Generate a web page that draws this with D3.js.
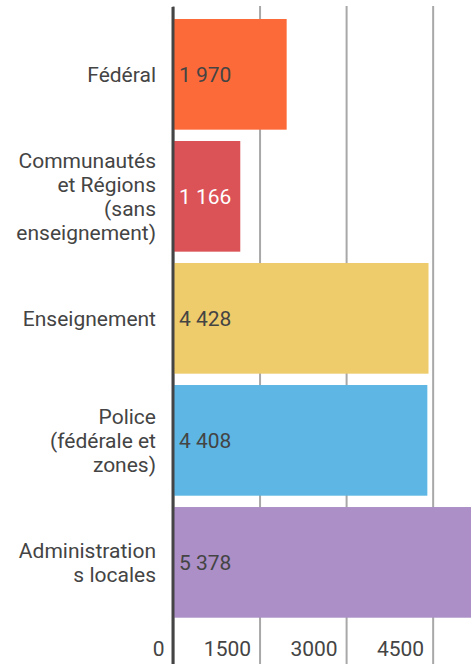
<!DOCTYPE html>
<meta charset="utf-8">

<!-- Load d3.js -->
<script src="https://d3js.org/d3.v7.min.js"></script>

<style>
  body {
    margin: 0;
    background: #fff;
  }
  #my_dataviz svg {
    display: block;
    font-family: Roboto, "Noto Sans", sans-serif;
  }
</style>

<div id="my_dataviz"></div>

<script>

// data
var categories = ["Fédéral", "Communautés et Régions (sans enseignement)", "Enseignement", "Police (fédérale et zones)", "Administrations locales"];
var labelLines = [
  ["Fédéral"],
  ["Communautés", "et Régions", "(sans", "enseignement)"],
  ["Enseignement"],
  ["Police", "(fédérale et", "zones)"],
  ["Administration", "s locales"]
];
var values = [1970, 1166, 4428, 4408, 5378];
var barColors = ["#fd6a39", "#dc5357", "#eecb6b", "#5db6e4", "#ab8fc6"];
var valueColors = ["#444", "#fff", "#444", "#444", "#444"];
var tickValues = [0, 1500, 3000, 4500];

// dimensions
var width = 471,
    height = 664,
    fontSize = "21px";

var svg = d3.select("#my_dataviz")
  .append("svg")
    .attr("width", width)
    .attr("height", height);

// X scale (runs past the right edge, the last bar is cut off)
var x = d3.scaleLinear()
  .domain([0, 5400])
  .range([173, 173 + 5400 * 0.0577]);

// Y scale
var y = d3.scaleBand()
  .domain(categories)
  .range([19, 617.7])
  .paddingInner(0.093)
  .paddingOuter(0);

// gridlines + tick labels
var grid = svg.append("g")
  .attr("transform", "translate(0," + height + ")")
  .call(d3.axisBottom(x).tickValues(tickValues).tickSize(-(height - 6)).tickFormat(d3.format("d")));
grid.select(".domain").remove();
grid.selectAll("line")
  .attr("stroke", "#a8a8a8")
  .attr("stroke-width", 2);
grid.selectAll("text")
  .attr("y", -8)
  .attr("dy", 0)
  .attr("x", -9)
  .attr("text-anchor", "end")
  .attr("fill", "#444")
  .style("font-size", fontSize)
  .style("font-family", "Roboto, sans-serif");

// bars
svg.selectAll("mybar")
  .data(values)
  .enter()
  .append("rect")
    .attr("x", x(0) + 1)
    .attr("y", function(d, i) { return y(categories[i]); })
    .attr("width", function(d) { return x(d) - x(0) - 1; })
    .attr("height", y.bandwidth())
    .attr("fill", function(d, i) { return barColors[i]; });

// value labels
var fmt = d3.formatLocale({decimal: ",", thousands: " ", grouping: [3], currency: ["", " €"]}).format(",d");
svg.selectAll("myvalue")
  .data(values)
  .enter()
  .append("text")
    .attr("x", x(0) + 6)
    .attr("y", function(d, i) { return y(categories[i]) + y.bandwidth() / 2; })
    .attr("dy", "0.35em")
    .attr("fill", function(d, i) { return valueColors[i]; })
    .style("font-size", fontSize)
    .text(function(d) { return fmt(d); });

// category labels (multi-line)
var lineH = 24;
var labels = svg.selectAll("mylabel")
  .data(labelLines)
  .enter()
  .append("text")
    .attr("text-anchor", "end")
    .attr("fill", "#444")
    .style("font-size", fontSize);
labels.each(function(lines, i) {
  var cy = y(categories[i]) + y.bandwidth() / 2;
  d3.select(this).selectAll("tspan")
    .data(lines)
    .enter()
    .append("tspan")
      .attr("x", 156)
      .attr("y", function(d, j) { return cy + (j - (lines.length - 1) / 2) * lineH + 7.5; })
      .text(function(d) { return d; });
});

// left axis line
svg.append("line")
  .attr("x1", x(0))
  .attr("x2", x(0))
  .attr("y1", 7)
  .attr("y2", height)
  .attr("stroke", "#444")
  .attr("stroke-width", 3);

</script>
